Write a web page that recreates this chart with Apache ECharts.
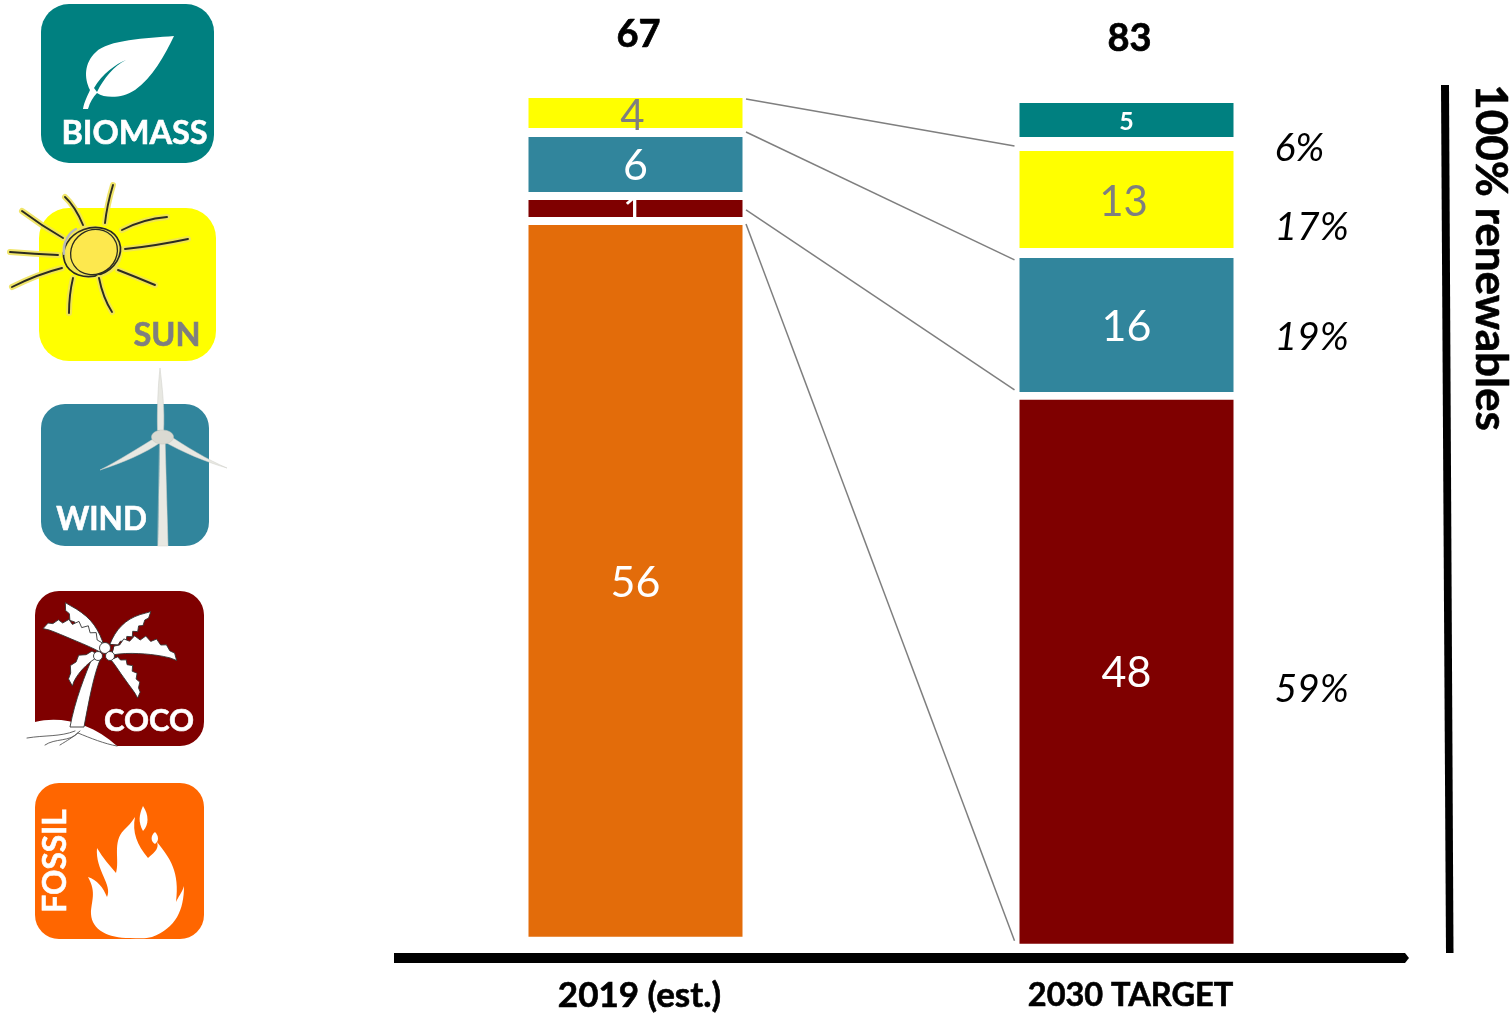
<!DOCTYPE html>
<html>
<head>
<meta charset="utf-8">
<style>html,body{margin:0;padding:0;background:#fff}#c{width:1512px;height:1014px}</style>
<script src="https://cdn.jsdelivr.net/npm/echarts@6/dist/echarts.min.js"></script>
</head>
<body>
<div id="c"></div>
<script>
// ---- Data ----
const categories = ['2019 (est.)', '2030 TARGET'];
const totals = ['67', '83'];
// numbers printed on the segments
const fossilPrinted = [56, null];
const cocoPrinted = [1, 48];
const windPrinted = [6, 16];
const sunPrinted = [4, 13];
const biomassPrinted = [null, 5];
// drawn heights of the segments (the source picture is not to scale)
const liftHeight = [21, 14];
const fossilHeight = [712, 0];
const gapA = [8, 0];
const cocoHeight = [17, 544];
const gapB = [8, 8];
const windHeight = [55, 134];
const gapC = [9, 10];
const sunHeight = [30, 97];
const gapD = [0, 14];
const biomassHeight = [0, 34];
// 2030 shares
const shareLabels = ['6%', '17%', '19%', '59%'];
const shareHeights = [811, 732, 622, 270];
// connector end heights
const connectorFrom = [859, 826, 748, 734];
const connectorTo = [812, 698, 568, 17];
const totalHeights = [925, 921];

const FONT = 'Lato, Carlito, "Open Sans", sans-serif';
const C = {biomass:'#008080', sun:'#FFFF00', wind:'#31859C', coco:'#7F0000', fossil:'#E36C0A', fossilIcon:'#FF6600', grey:'#7F7F7F'};
const BAR_W = 214;

function spacer(name, d){
  return {name, type:'bar', stack:'s', data:d, barWidth:BAR_W, silent:true, itemStyle:{color:'rgba(0,0,0,0)'}, label:{show:false}};
}
function seg(name, d, printed, color, txt, size, weight){
  return {name, type:'bar', stack:'s', data:d, barWidth:BAR_W, itemStyle:{color}, z:3,
    label:{show:true, position:'inside', offset:[0,2], color:txt, fontFamily:FONT, fontSize:size, fontWeight:weight||'normal',
      formatter:p => printed[p.dataIndex]==null ? '' : String(printed[p.dataIndex])}};
}
const sunSeg = seg('Sun', sunHeight, sunPrinted, C.sun, C.grey, 42);
sunSeg.label.offset = [-3, 3];
const cocoSeg = seg('Coco', cocoHeight, cocoPrinted, C.coco, '#fff', 43);
cocoSeg.label.offset = [0, 1];
cocoSeg.data = [{value:cocoHeight[0], label:{offset:[-2,2], fontSize:36}}, cocoHeight[1]];
const biomassSeg = seg('Biomass', biomassHeight, biomassPrinted, C.biomass, '#fff', 25, 'bold');

// ---- Icon art helpers ----
function rrect(x0,y0,x1,y1,r,fill){
  return {type:'rect', shape:{x:x0,y:y0,width:x1-x0,height:y1-y0,r}, style:{fill}};
}
function txt(text,x,y,size,fill,rot){
  return {type:'text', x, y, rotation:rot||0,
    style:{text, fill, fontFamily:FONT, fontSize:size, fontWeight:'bold', align:'center', verticalAlign:'middle', stroke:fill, lineWidth:0.6}};
}
function P(d,fill,stroke,lw){
  return {type:'path', shape:{pathData:d},
    style:{fill:fill||'none', stroke:stroke||'none', lineWidth:lw||0, lineCap:'round', lineJoin:'round'}};
}
function sunRay(x0,y0,cx,cy,x1,y1){
  const d=`M${x0} ${y0} Q${cx} ${cy} ${x1} ${y1}`;
  return [P(d,null,'rgba(238,226,90,0.9)',6), P(d,null,'#2b2b20',1.9)];
}
function frond(x0,y0,cx,cy,x1,y1,w,n,side){
  // a leaf along a quadratic curve, smooth on one edge and scalloped on the other
  const q=(t)=>[(1-t)*(1-t)*x0+2*t*(1-t)*cx+t*t*x1,(1-t)*(1-t)*y0+2*t*(1-t)*cy+t*t*y1];
  const nrm=(t)=>{const dx=2*(1-t)*(cx-x0)+2*t*(x1-cx),dy=2*(1-t)*(cy-y0)+2*t*(y1-cy),l=Math.hypot(dx,dy)||1;return[-dy/l*side,dx/l*side];};
  let d=`M${x0} ${y0}`;
  for(let i=1;i<=10;i++){const t=i/10,p=q(t),m=nrm(t),h=w*0.3*Math.sin(Math.PI*Math.min(t,0.96));d+=` L${(p[0]-m[0]*h).toFixed(1)} ${(p[1]-m[1]*h).toFixed(1)}`;}
  for(let i=n*2-1;i>=1;i--){const t=i/(n*2),p=q(t),m=nrm(t),base=w*Math.pow(Math.sin(Math.PI*Math.pow(t,0.8)),0.6),h=(i%2?base:base*0.68);d+=` L${(p[0]+m[0]*h).toFixed(1)} ${(p[1]+m[1]*h).toFixed(1)}`;}
  return P(d+' Z','#fff','#333',0.9);
}
const dot=(cx,cy,r)=>({type:'circle',shape:{cx,cy,r},style:{fill:'#fff',stroke:'#333',lineWidth:0.9}});

const art = [
  // biomass
  rrect(41,4,214,163,28,C.biomass),
  P('M174 36 C146 38 108 40 96 52 C84 63 84 78 90 90 C88 95 84 102 83 109 L88 109 C90 102 93 97 97 93 C106 99 123 98 135 90 C152 78 165 55 174 36 Z','#fff'),
  P('M97 92 C104 78 114 66 126 60 C116 64 102 74 94 88 Z',C.biomass),
  txt('BIOMASS',134.5,133.5,32.5,'#fff'),
  // sun
  rrect(39,208,216,361,30,C.sun),
  {type:'ellipse',shape:{cx:92,cy:252,rx:28,ry:24},style:{fill:'#FDE84E',stroke:'rgba(240,228,90,.9)',lineWidth:5}},
  {type:'ellipse',x:92,y:252,rotation:0.35,shape:{cx:0,cy:0,rx:29,ry:24},style:{fill:'none',stroke:'#2b2b20',lineWidth:1.7}},
  {type:'ellipse',x:94,y:252,rotation:0.6,shape:{cx:0,cy:0,rx:24,ry:22},style:{fill:'none',stroke:'#2b2b20',lineWidth:1.3}},
  P('M64 254 C63 240 70 232 76 229','none','#b8b8b8',2.2),
  ...sunRay(113,185,107,205,105,223), ...sunRay(65,197,75,206,83,225), ...sunRay(22,211,42,226,63,238),
  ...sunRay(10,252,35,254,58,255), ...sunRay(12,287,38,274,62,268), ...sunRay(73,278,69,295,69,313),
  ...sunRay(99,278,103,298,112,312), ...sunRay(118,270,136,277,155,285), ...sunRay(125,249,155,246,188,239),
  ...sunRay(122,230,143,219,167,217),
  txt('SUN',167,335.5,32.5,C.grey),
  // wind
  rrect(41,404,209,546,24,C.wind),
  P('M160 437 L165 437 L168 546 L158 546 Z','#E8E8E2','#d4d4cc',0.5),
  P('M157.5 430 C157 410 158 385 160 368 C162 385 165 410 163.5 432 Z','#E8E8E2','#cfcfc8',0.5),
  P('M158 436 C140 447 118 461 100 470 C122 463 146 453 161 442 Z','#E8E8E2','#cfcfc8',0.5),
  P('M167 434 C185 446 208 460 227 468 C206 462 182 452 163 441 Z','#E8E8E2','#cfcfc8',0.5),
  {type:'ellipse',shape:{cx:162.5,cy:437,rx:11,ry:7},style:{fill:'#DADAD2',stroke:'#c4c4bc',lineWidth:0.5}},
  txt('WIND',101.5,520,31.5,'#fff'),
  // coco
  rrect(35,591,204,746,24,C.coco),
  P('M35 722 C60 716 90 722 117 746 L35 746 Z','#fff'),
  P('M27 738 C45 735 60 737 75 731 M45 745 C55 738 70 742 78 733 M60 745 C68 740 72 738 80 731 M78 733 C90 738 105 744 117 746','none','#555',0.9),
  P('M100 660 C94 675 90 695 84 727 L70 727 C75 700 85 675 93 656 Z','#fff','#333',0.9),
  frond(104,646,90,622,65,603,14,6,-1),
  frond(100,652,75,630,43,628,15,7,1),
  frond(110,644,125,622,151,612,12,6,1),
  frond(112,655,145,642,177,660,14,7,-1),
  frond(100,656,76,662,72,686,10,4,1),
  frond(111,660,128,672,138,698,11,6,-1),
  dot(105,648,5.5), dot(98,656,4.5), dot(110,656,4.5),
  txt('COCO',149,720.5,31,'#fff'),
  // fossil
  rrect(35,783,204,939,24,C.fossilIcon),
  P('M130 938 C108 938 92 930 91 914 C91 901 97 893 88 877 C97 880 103 887 107 897 C113 885 95 870 97 848 C103 858 110 866 116 873 C120 860 112 842 124 830 C128 826 132 822 135 817 C132 832 137 845 148 858 C156 851 159 848 157 842 C170 858 180 872 176 902 C178 897 182 893 184 886 C184 910 176 928 152 937 C145 939 138 938 130 938 Z','#fff'),
  P('M143 806 C139 815 138 822 143 831 C149 825 149 815 143 806 Z','#fff'),
  P('M155 832 C150 836 151 842 155 844 C159 841 159 836 155 832 Z','#fff'),
  txt('FOSSIL',56,861,31.5,'#fff',Math.PI/2),
  // arrow axis and right-hand bar
  {type:'polygon', shape:{points:[[394,953],[1405,953],[1409,958],[1405,963],[394,963]]}, style:{fill:'#000'}},
  {type:'polygon', shape:{points:[[1441,85],[1449,85],[1453.5,953],[1446,953]]}, style:{fill:'#000'}},
  txt('100% renewables',1490,257.5,44,'#000',-Math.PI/2)
];

const tickText = {fontFamily:FONT, fontWeight:'bold', color:'#000', textBorderColor:'#000', textBorderWidth:0.6};
const option = {
  backgroundColor:'#fff',
  animation:false,
  grid:{left:390, width:982, top:0, height:958},
  xAxis:{type:'category', data:categories,
    axisLine:{show:false}, axisTick:{show:false},
    axisLabel:{margin:21, padding:[0,0,0,8],
      formatter:(v,i)=> i===0 ? `{a|${v}}` : `{b|${v}}`,
      rich:{a:{...tickText,fontSize:35}, b:{...tickText,fontSize:32.5}}}},
  yAxis:{type:'value', min:0, max:958, show:false, splitLine:{show:false}},
  series:[
    spacer('lift', liftHeight),
    seg('Fossil', fossilHeight, fossilPrinted, C.fossil, '#fff', 43),
    spacer('gapA', gapA),
    cocoSeg,
    spacer('gapB', gapB),
    seg('Wind', windHeight, windPrinted, C.wind, '#fff', 43),
    spacer('gapC', gapC),
    sunSeg,
    spacer('gapD', gapD),
    biomassSeg,
    {name:'icons', type:'custom', silent:true, z:4, clip:false, encode:{x:0,y:1}, data:[[0,0]],
      renderItem:()=>({type:'group', children:art})},
    {name:'connectors', type:'custom', silent:true, z:2, clip:false,
      encode:{x:[0,2], y:[1,3]},
      data:connectorFrom.map((h,i)=>[0,h,1,connectorTo[i]]),
      renderItem:(p,api)=>{
        const a=api.coord([0,api.value(1)]), b=api.coord([1,api.value(3)]);
        return {type:'line', shape:{x1:a[0]+110.5,y1:a[1],x2:b[0]-112,y2:b[1]}, style:{stroke:'#7F7F7F',lineWidth:1.5}};
      }},
    {name:'totals', type:'custom', silent:true, z:5, clip:false, encode:{x:0,y:1},
      data:totals.map((t,i)=>[i,totalHeights[i],t]),
      renderItem:(p,api)=>{
        const a=api.coord([api.value(0),api.value(1)]);
        return {type:'text', style:{text:totals[p.dataIndex], x:a[0]+3, y:a[1]+2, fill:'#000', stroke:'#000', lineWidth:0.7, fontFamily:FONT, fontWeight:'bold', fontSize:38, align:'center', verticalAlign:'middle'}};
      }},
    {name:'shares', type:'custom', silent:true, z:5, clip:false, encode:{x:0,y:1},
      data:shareLabels.map((t,i)=>[1,shareHeights[i],t]),
      renderItem:(p,api)=>{
        const a=api.coord([1,api.value(1)]);
        return {type:'text', style:{text:shareLabels[p.dataIndex], x:a[0]+148, y:a[1]+1.5, fill:'#000', fontFamily:FONT, fontStyle:'italic', fontSize:39, align:'left', verticalAlign:'middle'}};
      }}
  ]
};
echarts.init(document.getElementById('c'),null,{renderer:'canvas'}).setOption(option);
</script>
</body>
</html>
